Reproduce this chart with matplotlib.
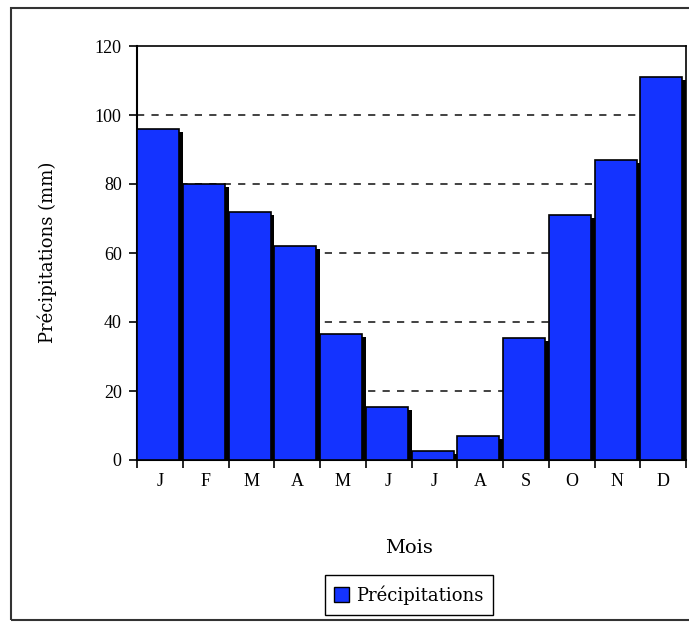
import matplotlib.pyplot as plt
import numpy as np
from matplotlib.patches import Rectangle, Patch

mois = ['J', 'F', 'M', 'A', 'M', 'J', 'J', 'A', 'S', 'O', 'N', 'D']
precip = [96, 80, 72, 62, 36.5, 15.5, 2.5, 7, 35.5, 71, 87, 111]

bleu = '#1433FF'
plt.rcParams['font.family'] = ['Liberation Serif', 'DejaVu Serif']
label_font = ['DejaVu Serif']

fig = plt.figure(figsize=(6.89, 6.22), dpi=100)
ax = fig.add_axes([137/689, 1 - 460/622, (686 - 137)/689, (460 - 46)/622])

x = np.arange(len(mois))
w = 0.92
off = 0.08
# ombre des barres
ax.bar(x + off, np.array(precip) - 0.9, width=w, align='edge', color='black',
       edgecolor='black', linewidth=0, zorder=2)
ax.bar(x, precip, width=w, align='edge', color=bleu, edgecolor='black',
       linewidth=1.2, zorder=3)

for yv in [20, 40, 60, 80, 100]:
    ax.axhline(yv, color='#333333', linestyle=(0, (4, 4)), linewidth=1.3, zorder=1)

ax.set_xlim(0, 12)
ax.set_ylim(0, 120)
ax.set_yticks(range(0, 121, 20))
ax.set_xticks(range(0, 13))
ax.set_xticklabels([])
ax.set_xticks(x + 0.5, minor=True)
ax.set_xticklabels(mois, minor=True, fontsize=13)
ax.tick_params(axis='x', which='minor', length=0, pad=9)
ax.tick_params(axis='x', which='major', length=6, width=1.2, direction='out')
ax.tick_params(axis='y', length=6, width=1.2, labelsize=13, pad=5)
for s in ax.spines.values():
    s.set_linewidth(1.2)
ax.spines['left'].set_linewidth(1.5)
ax.spines['bottom'].set_linewidth(1.5)

fig.text(47/689, 1 - 252/622, 'Précipitations (mm)', rotation=90, ha='center',
         va='center', fontsize=13, family=label_font)
fig.text(409/689, 1 - 548/622, 'Mois', ha='center', va='center', fontsize=14,
         family=label_font)

fig.legend(handles=[Patch(facecolor=bleu, edgecolor='black', label='Précipitations')],
           loc='center', bbox_to_anchor=(409/689, 1 - 595/622),
           prop={'family': label_font, 'size': 13},
           frameon=True, fancybox=False, edgecolor='black', framealpha=1,
           handlelength=0.8, handleheight=0.9, handletextpad=0.4, borderpad=0.55,
           borderaxespad=0)

fig.patches.append(Rectangle((11/689, 1 - 620/622), 1.0, (620 - 8)/622,
                             transform=fig.transFigure, fill=False,
                             edgecolor='#333333', linewidth=1.5))

fig.savefig('out.png', dpi=100)
